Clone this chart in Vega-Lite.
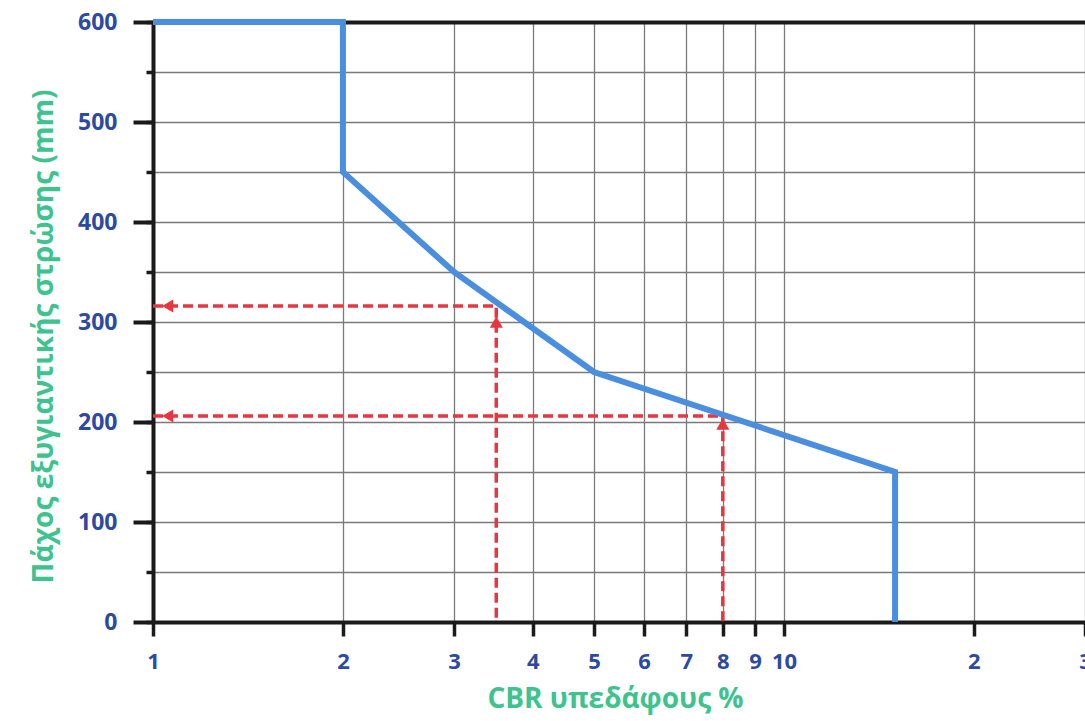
{
  "$schema": "https://vega.github.io/schema/vega-lite/v6.json",
  "width": 932,
  "height": 600,
  "autosize": "none",
  "padding": {"left": 153, "top": 22, "right": 0, "bottom": 99},
  "background": "white",
  "config": {
    "view": {"stroke": null},
    "axis": {"labelFont": "Open Sans", "titleFont": "Open Sans", "labelFontWeight": "bold", "titleFontWeight": "bold"}
  },
  "datasets": {
    "curve": [
      {"seq": 1, "cbr": 1, "thickness": 600},
      {"seq": 2, "cbr": 2, "thickness": 600},
      {"seq": 3, "cbr": 2, "thickness": 450},
      {"seq": 4, "cbr": 3, "thickness": 350},
      {"seq": 5, "cbr": 5, "thickness": 250},
      {"seq": 6, "cbr": 15, "thickness": 150},
      {"seq": 7, "cbr": 15, "thickness": 0}
    ],
    "guides": [
      {"path": "a", "seq": 1, "cbr": 1, "thickness": 316},
      {"path": "a", "seq": 2, "cbr": 3.5, "thickness": 316},
      {"path": "a", "seq": 3, "cbr": 3.5, "thickness": 0},
      {"path": "b", "seq": 1, "cbr": 1, "thickness": 206},
      {"path": "b", "seq": 2, "cbr": 8, "thickness": 206},
      {"path": "b", "seq": 3, "cbr": 8, "thickness": 0}
    ],
    "arrows": [
      {"dir": "left", "cbr": 1.055, "thickness": 316},
      {"dir": "left", "cbr": 1.055, "thickness": 206},
      {"dir": "up", "cbr": 3.5, "thickness": 300},
      {"dir": "up", "cbr": 8, "thickness": 198}
    ]
  },
  "resolve": {"axis": {"x": "independent", "y": "independent"}},
  "layer": [
    {
      "data": {"name": "guides"},
      "mark": {"type": "line", "color": "#e8363f", "strokeWidth": 3.5, "strokeDash": [10, 5], "clip": true},
      "encoding": {
        "x": {"field": "cbr", "type": "quantitative",
              "scale": {"type": "log", "domain": [1, 30], "nice": false},
              "axis": {"orient": "top", "title": null, "labels": false, "ticks": false, "grid": false,
                       "domain": true, "domainColor": "#1a1a1a", "domainWidth": 4}},
        "y": {"field": "thickness", "type": "quantitative",
              "scale": {"domain": [0, 600], "nice": false, "zero": true},
              "axis": {"orient": "left", "title": null, "labels": false, "domain": false,
                       "values": [0, 50, 100, 150, 200, 250, 300, 350, 400, 450, 500, 550, 600],
                       "tickSize": 7, "tickWidth": 3.5, "tickColor": "#1a1a1a",
                       "grid": true, "gridColor": "#7a7a7a", "gridWidth": 1.3, "gridOpacity": 1}},
        "detail": {"field": "path"},
        "order": {"field": "seq", "type": "quantitative"}
      }
    },
    {
      "data": {"name": "curve"},
      "mark": {"type": "line", "color": "#4a8ee0", "strokeWidth": 6, "strokeJoin": "miter", "clip": false},
      "encoding": {
        "x": {"field": "cbr", "type": "quantitative",
              "scale": {"type": "log", "domain": [1, 30], "nice": false},
              "axis": {"orient": "bottom", "title": "CBR υπεδάφους %",
                       "values": [1, 2, 3, 4, 5, 6, 7, 8, 9, 10, 20, 30],
                       "labelExpr": "datum.value >= 20 ? format(datum.value / 10, 'd') : format(datum.value, 'd')",
                       "labelFontSize": 22, "labelColor": "#2c4aa3", "labelPadding": 15,
                       "labelFlush": false, "labelOverlap": false, "labelBound": false,
                       "tickSize": 14, "tickWidth": 3.5, "tickColor": "#1a1a1a",
                       "domainColor": "#1a1a1a", "domainWidth": 4,
                       "grid": true, "gridColor": "#7a7a7a", "gridWidth": 1.3, "gridOpacity": 1,
                       "titleFontSize": 28, "titleColor": "#3ec38f",
                       "titleX": 462, "titleY": 85, "titleBaseline": "alphabetic", "titleAlign": "center"}},
        "y": {"field": "thickness", "type": "quantitative",
              "scale": {"domain": [0, 600], "nice": false, "zero": true},
              "axis": {"orient": "left", "title": "Πάχος εξυγιαντικής στρώσης (mm)",
                       "values": [0, 100, 200, 300, 400, 500, 600],
                       "labelFontSize": 23, "labelColor": "#2c4aa3", "labelPadding": 16,
                       "labelFlush": false, "labelOverlap": false,
                       "tickSize": 20, "tickWidth": 4, "tickColor": "#1a1a1a",
                       "domainColor": "#1a1a1a", "domainWidth": 4, "grid": false,
                       "titleFontSize": 28, "titleColor": "#3ec38f",
                       "titleX": -101, "titleY": 314, "titleBaseline": "alphabetic", "titleAlign": "center", "titleAngle": 270}},
        "order": {"field": "seq", "type": "quantitative"}
      }
    },
    {
      "data": {"name": "arrows"},
      "mark": {"type": "point", "filled": true, "opacity": 1, "color": "#e8363f", "size": 170},
      "encoding": {
        "x": {"field": "cbr", "type": "quantitative", "scale": {"type": "log", "domain": [1, 30], "nice": false}, "axis": null},
        "y": {"field": "thickness", "type": "quantitative", "scale": {"domain": [0, 600], "nice": false}, "axis": null},
        "shape": {"field": "dir", "type": "nominal",
                  "scale": {"domain": ["left", "up"], "range": ["triangle-left", "triangle-up"]}, "legend": null}
      }
    }
  ]
}
